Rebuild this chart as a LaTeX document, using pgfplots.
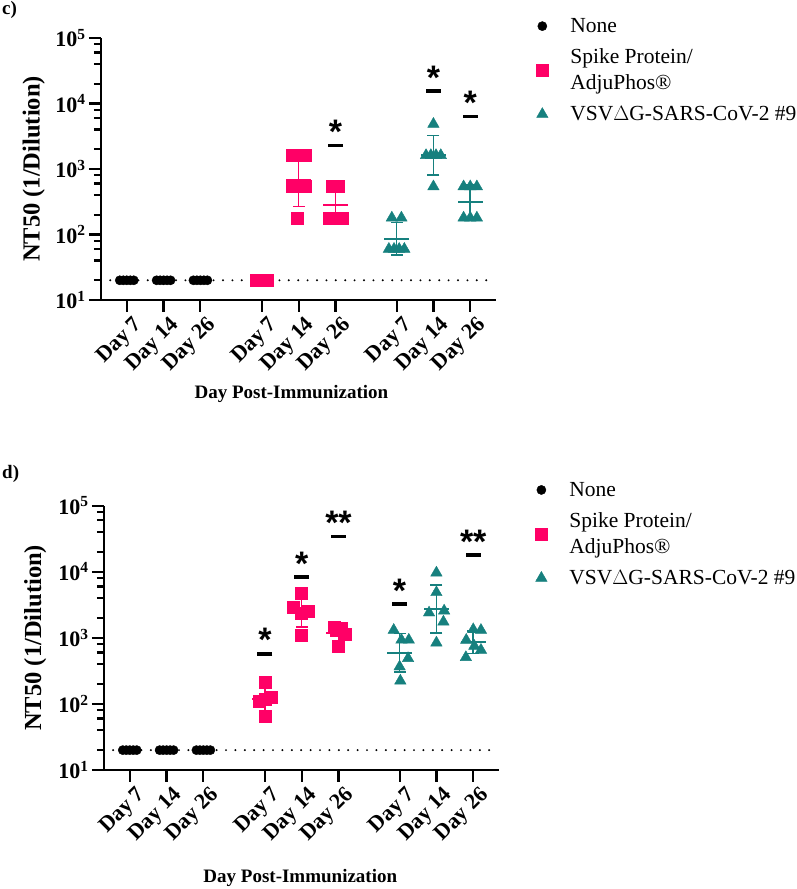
\documentclass[border=0pt]{standalone}
\usepackage{fontspec}
\setmainfont{Liberation Serif}
\setsansfont{Liberation Sans}
\usepackage{pgfplots}
\pgfplotsset{compat=1.18}
\definecolor{spk}{RGB}{255,0,102}
\definecolor{vsv}{RGB}{22,128,126}
\newcommand{\starfont}{\fontsize{34}{34}\sffamily\bfseries}

\begin{document}
\begin{tikzpicture}
\path[use as bounding box] (0,0) rectangle (797pt,-889pt);
\node[anchor=base west, inner sep=0pt, font=\fontsize{19}{19}\selectfont\bfseries] at (2pt,-14pt) {c)};
\node[anchor=base west, inner sep=0pt, font=\fontsize{19}{19}\selectfont\bfseries] at (2pt,-478pt) {d)};

% panel c
\begin{axis}[
  at={(101pt,-300pt)}, anchor=south west,
  scale only axis, width=395pt, height=262pt,
  ymode=log, ymin=10, ymax=100000, xmin=-0.7, xmax=10.03,
  axis x line*=bottom, axis y line*=left,
  axis line style={line width=2.6pt},
  tick align=outside,
  major tick length=12pt, minor tick length=7pt,
  tick style={line width=2.2pt, black},
  ytick={10,100,1000,10000,100000},
  yticklabels={10\textsuperscript{1},10\textsuperscript{2},10\textsuperscript{3},10\textsuperscript{4},10\textsuperscript{5}},
  minor ytick={20,40,60,80,200,400,600,800,2000,4000,6000,8000,20000,40000,60000,80000},
  xtick={0,1,2,3.67,4.67,5.67,7.33,8.33,9.33},
  xticklabels={Day 7,Day 14,Day 26,Day 7,Day 14,Day 26,Day 7,Day 14,Day 26},
  x tick label style={rotate=45, anchor=north east, font=\fontsize{22}{22}\selectfont\bfseries, inner sep=1pt, xshift=3pt, yshift=-5pt},
  y tick label style={font=\fontsize{22}{22}\selectfont\bfseries},
  ylabel={NT50 (1/Dilution)},
  ylabel style={font=\fontsize{24.5}{24.5}\selectfont\bfseries, at={(axis description cs:-0.17,0.5)}, anchor=center},
  xlabel={Day Post-Immunization},
  xlabel style={font=\fontsize{19}{19}\selectfont\bfseries, at={(axis description cs:0.482,-0.36)}, anchor=center},
  clip=false,
  legend style={draw=none, fill=none, anchor=north west, at={(axis description cs:1.094,1.091)},
    font=\fontsize{21.5}{26}\selectfont,
    cells={anchor=west, align=left}, row sep=11pt, column sep=20pt},
]
\addplot[forget plot, black, line width=2.2pt, line cap=round, dash pattern=on 0pt off 9.4pt] coordinates {(-0.45,20) (9.82,20)};
\addplot[only marks, mark=*, mark size=4.6pt, black] coordinates {
  (-0.19,20) (-0.095,20) (0,20) (0.095,20) (0.19,20)
  (0.81,20) (0.905,20) (1,20) (1.095,20) (1.19,20)
  (1.81,20) (1.905,20) (2,20) (2.095,20) (2.19,20)};
\addlegendentry{None}
\addplot[only marks, mark=square*, mark size=6pt, spk] coordinates {
  (3.52,20) (3.595,20) (3.67,20) (3.745,20) (3.82,20)
  (4.50,1620) (4.84,1620) (4.50,540) (4.84,540) (4.63,180)
  (5.59,540) (5.75,540) (5.49,180) (5.67,180) (5.85,180)};
\addlegendentry{Spike Protein/\\AdjuPhos®}
\addplot[only marks, mark=triangle*, mark size=6.6pt, vsv] coordinates {
  (7.20,180) (7.46,180) (7.12,60) (7.26,60) (7.40,60) (7.54,60)
  (8.33,4860) (8.13,1620) (8.26,1620) (8.40,1620) (8.53,1620) (8.33,540)
  (9.15,540) (9.33,540) (9.51,540) (9.15,180) (9.33,180) (9.51,180)};
\addlegendentry{VSV$\Delta$G-SARS-CoV-2 \#9}
% geometric mean with geometric SD
\addplot[forget plot, spk, line width=1.5pt, mark=-, mark size=6pt, unbounded coords=jump] coordinates {(4.67,268) (4.67,1687) (4.67,nan) (5.67,153) (5.67,510)};
\addplot[forget plot, spk, only marks, mark=-, mark size=12.5pt, mark options={line width=2pt}] coordinates {(4.67,673) (5.67,279)};
\addplot[forget plot, vsv, line width=1.5pt, mark=-, mark size=6pt, unbounded coords=jump] coordinates {(7.33,49) (7.33,153) (7.33,nan) (8.33,809) (8.33,3246) (8.33,nan) (9.33,171) (9.33,569)};
\addplot[forget plot, vsv, only marks, mark=-, mark size=12.5pt, mark options={line width=2pt}] coordinates {(7.33,86.5) (8.33,1620) (9.33,312)};
% significance
\addplot[forget plot, only marks, black, mark=-, mark size=7.5pt, mark options={line width=3.6pt},
  point meta=explicit symbolic, nodes near coords,
  every node near coord/.append style={font=\starfont, anchor=base, yshift=2pt, inner sep=0pt}]
  coordinates {(5.67,2300) [*] (8.33,15500) [*] (9.33,6300) [*]};
\end{axis}

% panel d
\begin{axis}[
  at={(104pt,-770pt)}, anchor=south west,
  scale only axis, width=395pt, height=264.3pt,
  ymode=log, ymin=10, ymax=100000, xmin=-0.7, xmax=10.03,
  axis x line*=bottom, axis y line*=left,
  axis line style={line width=2.6pt},
  tick align=outside,
  major tick length=12pt, minor tick length=7pt,
  tick style={line width=2.2pt, black},
  ytick={10,100,1000,10000,100000},
  yticklabels={10\textsuperscript{1},10\textsuperscript{2},10\textsuperscript{3},10\textsuperscript{4},10\textsuperscript{5}},
  minor ytick={20,40,60,80,200,400,600,800,2000,4000,6000,8000,20000,40000,60000,80000},
  xtick={0,1,2,3.67,4.67,5.67,7.33,8.33,9.33},
  xticklabels={Day 7,Day 14,Day 26,Day 7,Day 14,Day 26,Day 7,Day 14,Day 26},
  x tick label style={rotate=45, anchor=north east, font=\fontsize{22}{22}\selectfont\bfseries, inner sep=1pt, xshift=3pt, yshift=-5pt},
  y tick label style={font=\fontsize{22}{22}\selectfont\bfseries},
  ylabel={NT50 (1/Dilution)},
  ylabel style={font=\fontsize{24.5}{24.5}\selectfont\bfseries, at={(axis description cs:-0.174,0.5)}, anchor=center},
  xlabel={Day Post-Immunization},
  xlabel style={font=\fontsize{19}{19}\selectfont\bfseries, at={(axis description cs:0.497,-0.41)}, anchor=center},
  clip=false,
  legend style={draw=none, fill=none, anchor=north west, at={(axis description cs:1.084,1.105)},
    font=\fontsize{21.5}{26}\selectfont,
    cells={anchor=west, align=left}, row sep=11pt, column sep=20pt},
]
\addplot[forget plot, black, line width=2.2pt, line cap=round, dash pattern=on 0pt off 9.4pt] coordinates {(-0.45,20) (9.82,20)};
\addplot[only marks, mark=*, mark size=4.6pt, black] coordinates {
  (-0.19,20) (-0.095,20) (0,20) (0.095,20) (0.19,20)
  (0.81,20) (0.905,20) (1,20) (1.095,20) (1.19,20)
  (1.81,20) (1.905,20) (2,20) (2.095,20) (2.19,20)};
\addlegendentry{None}
\addplot[only marks, mark=square*, mark size=6pt, spk] coordinates {
  (3.67,217) (3.51,110) (3.67,118) (3.83,125) (3.67,66)
  (4.67,4710) (4.43,2950) (4.86,2500) (4.67,2350) (4.67,1100)
  (5.55,1470) (5.74,1390) (5.62,1290) (5.86,1140) (5.67,752)};
\addlegendentry{Spike Protein/\\AdjuPhos®}
\addplot[only marks, mark=triangle*, mark size=6.6pt, vsv] coordinates {
  (7.17,1310) (7.38,930) (7.58,930) (7.56,490) (7.33,366) (7.35,224)
  (8.33,9660) (8.33,4870) (8.13,2400) (8.54,2570) (8.52,1750) (8.33,843)
  (9.33,1340) (9.54,1310) (9.14,927) (9.36,752) (9.54,654) (9.13,507)};
\addlegendentry{VSV$\Delta$G-SARS-CoV-2 \#9}
\addplot[forget plot, spk, line width=1.5pt, mark=-, mark size=6pt, unbounded coords=jump] coordinates {(3.67,77.5) (3.67,181) (3.67,nan) (4.67,1453) (4.67,4158) (4.67,nan) (5.67,901) (5.67,1538)};
\addplot[forget plot, spk, only marks, mark=-, mark size=12.5pt, mark options={line width=2pt}] coordinates {(3.67,118) (4.67,2459) (5.67,1177)};
\addplot[forget plot, vsv, line width=1.5pt, mark=-, mark size=6pt, unbounded coords=jump] coordinates {(7.33,305) (7.33,1169) (7.33,nan) (8.33,1185) (8.33,6363) (8.33,nan) (9.33,584) (9.33,1268)};
\addplot[forget plot, vsv, only marks, mark=-, mark size=12.5pt, mark options={line width=2pt}] coordinates {(7.33,597) (8.33,2745) (9.33,860)};
\addplot[forget plot, only marks, black, mark=-, mark size=7.5pt, mark options={line width=3.6pt},
  point meta=explicit symbolic, nodes near coords,
  every node near coord/.append style={font=\starfont, anchor=base, yshift=2pt, inner sep=0pt}]
  coordinates {(3.67,570) [*] (4.67,8300) [*] (5.67,34000) [**] (7.33,3250) [*] (9.33,17900) [**]};
\end{axis}
\end{tikzpicture}
\end{document}
